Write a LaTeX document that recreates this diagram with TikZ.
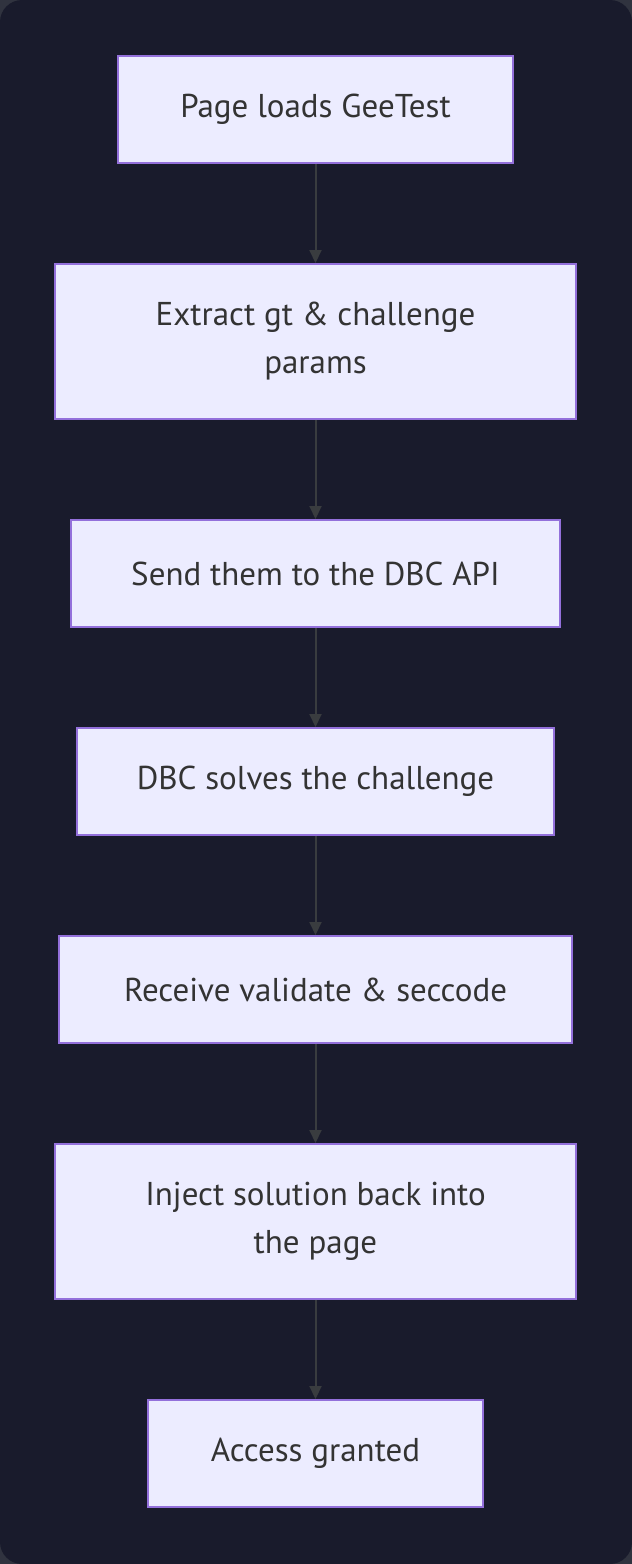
\documentclass[tikz,border=0pt]{standalone}
\usepackage{fontspec}
\setmainfont{PT Sans}
\usetikzlibrary{arrows.meta}
\definecolor{bgouter}{HTML}{30333F}
\definecolor{bg}{HTML}{191B2C}
\definecolor{boxfill}{HTML}{ECECFF}
\definecolor{boxline}{HTML}{9370DB}
\definecolor{txt}{HTML}{333333}
\definecolor{arr}{HTML}{393C3F}
\tikzset{
  stepbox/.style={draw=boxline, line width=2pt, fill=boxfill, text=txt,
    font=\fontsize{33}{48}\selectfont, align=center, inner sep=0pt},
  flow/.style={draw=arr, line width=2pt, -{Triangle[length=13pt,width=12pt]}}
}
\begin{document}
\begin{tikzpicture}[x=1pt,y=-1pt]
\fill[bgouter] (0,0) rectangle (632,1564);
\fill[bg, rounded corners=22pt] (0,0) rectangle (632,1564);
\useasboundingbox (0,0) rectangle (632,1564);
\node[stepbox, minimum width=395pt, minimum height=107pt] (a) at (315.5,109.5) {Page loads GeeTest};
\node[stepbox, minimum width=521pt, minimum height=155pt] (b) at (315.5,341.5) {Extract gt \& challenge\\params};
\node[stepbox, minimum width=489pt, minimum height=107pt] (c) at (315.5,573.5) {Send them to the DBC API};
\node[stepbox, minimum width=477pt, minimum height=107pt] (d) at (315.5,781.5) {DBC solves the challenge};
\node[stepbox, minimum width=513pt, minimum height=107pt] (e) at (315.5,989.5) {Receive validate \& seccode};
\node[stepbox, minimum width=521pt, minimum height=155pt] (f) at (315.5,1221.5) {Inject solution back into\\the page};
\node[stepbox, minimum width=335pt, minimum height=107pt] (g) at (315.5,1453.5) {Access granted};
\draw[flow] (a) -- (b);
\draw[flow] (b) -- (c);
\draw[flow] (c) -- (d);
\draw[flow] (d) -- (e);
\draw[flow] (e) -- (f);
\draw[flow] (f) -- (g);
\end{tikzpicture}
\end{document}
